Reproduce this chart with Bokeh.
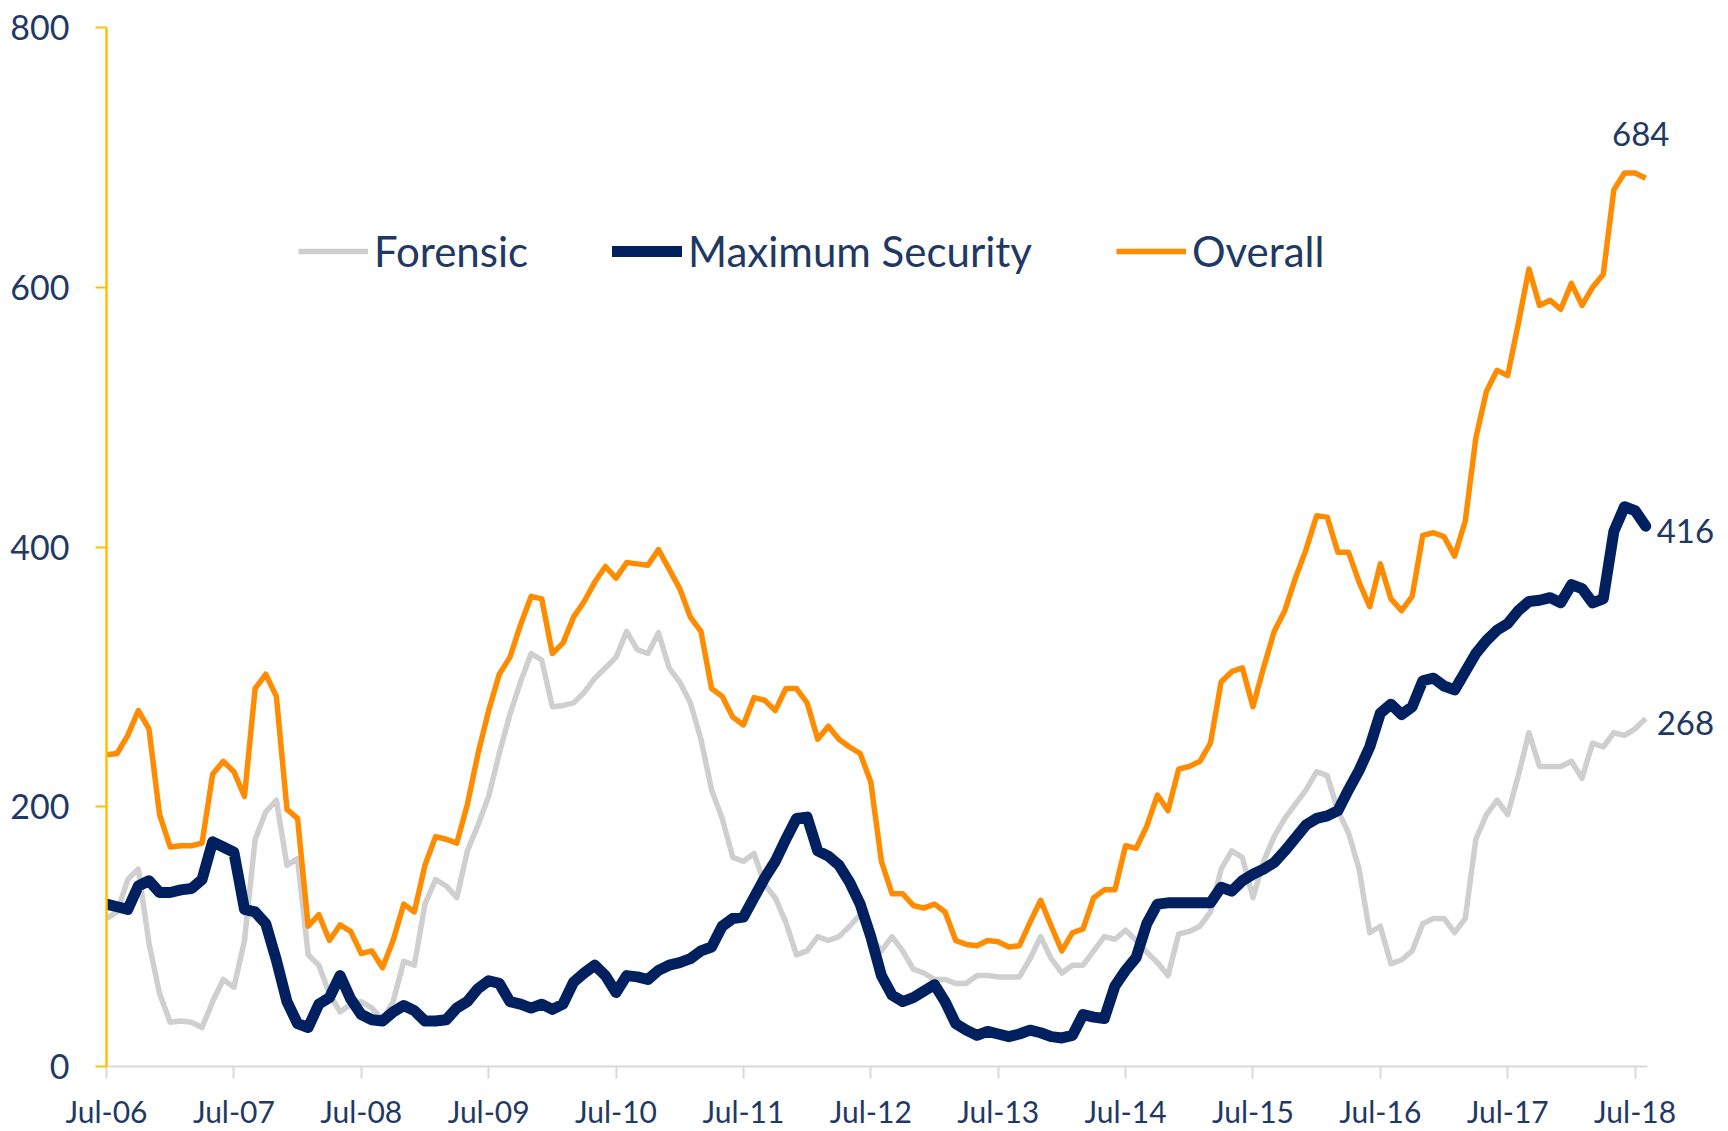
import numpy as np
from bokeh.plotting import figure
from bokeh.models import Range1d, FixedTicker, Legend, LegendItem, Label
from bokeh.embed import file_html
from bokeh.resources import INLINE

# ---------------- data (monthly, Jul-06 .. Aug-18) ----------------
tick_labels = ["Jul-06", "Jul-07", "Jul-08", "Jul-09", "Jul-10", "Jul-11", "Jul-12",
               "Jul-13", "Jul-14", "Jul-15", "Jul-16", "Jul-17", "Jul-18"]

forensic = [114, 119, 144, 152, 95, 56, 34, 35, 34, 30, 50, 67,
            61, 97, 175, 196, 205, 155, 160, 86, 78, 56, 42, 48,
            50, 45, 36, 50, 81, 78, 125, 144, 139, 130, 166, 186,
            208, 241, 271, 296, 318, 313, 277, 278, 280, 288, 299, 307,
            315, 335, 321, 318, 334, 307, 296, 280, 252, 213, 191, 161,
            158, 164, 140, 130, 111, 86, 89, 100, 97, 100, 108, 117,
            100, 89, 100, 89, 75, 72, 67, 67, 64, 64, 70, 70,
            69, 69, 69, 83, 100, 83, 72, 78, 78, 89, 100, 98,
            105, 97, 88, 80, 70, 102, 104, 108, 119, 152, 166, 161,
            130, 158, 177, 191, 202, 213, 227, 224, 197, 180, 152, 103,
            108, 79, 82, 89, 110, 114, 114, 103, 114, 175, 194, 205,
            194, 224, 257, 231, 231, 231, 235, 222, 249, 246, 257, 255,
            260, 268]

max_security = [125, 123, 121, 139, 143, 134, 134, 136, 137, 144, 173, 169,
                165, 121, 119, 110, 82, 50, 33, 30, 48, 53, 70, 52,
                40, 36, 35, 42, 47, 43, 35, 35, 36, 45, 50, 60,
                66, 64, 50, 48, 45, 48, 44, 48, 65, 72, 78, 70,
                57, 70, 69, 67, 74, 78, 80, 83, 89, 92, 108, 114,
                115, 130, 145, 158, 175, 191, 192, 166, 162, 155, 142, 125,
                100, 70, 55, 50, 53, 58, 63, 50, 33, 28, 24, 27,
                25, 23, 25, 28, 26, 23, 22, 24, 40, 38, 37, 62,
                74, 84, 110, 125, 126, 126, 126, 126, 126, 138, 135, 143,
                148, 152, 157, 166, 176, 186, 191, 193, 197, 213, 228, 246,
                272, 279, 271, 277, 297, 299, 293, 290, 304, 318, 328, 336,
                341, 351, 358, 359, 361, 357, 371, 368, 357, 360, 412, 431,
                428, 416]

overall = [240, 241, 255, 274, 260, 194, 169, 170, 170, 172, 225, 235,
           227, 208, 291, 302, 285, 198, 191, 108, 117, 97, 109, 104,
           87, 89, 76, 97, 125, 119, 155, 177, 175, 172, 202, 241,
           274, 302, 315, 340, 362, 360, 318, 326, 346, 358, 373, 385,
           376, 388, 387, 386, 398, 383, 368, 346, 335, 291, 285, 269,
           263, 284, 282, 274, 291, 291, 280, 252, 262, 252, 246, 241,
           219, 158, 133, 133, 124, 122, 125, 119, 97, 94, 93, 97,
           96, 92, 93, 111, 128, 108, 89, 103, 106, 130, 136, 136,
           170, 168, 185, 209, 197, 229, 231, 235, 249, 296, 304, 307,
           277, 307, 335, 351, 376, 398, 424, 423, 396, 396, 373, 354,
           387, 360, 351, 362, 409, 411, 408, 393, 420, 484, 520, 536,
           532, 572, 614, 586, 590, 583, 603, 586, 600, 610, 675, 688,
           688, 684]

y_ticks = [0, 200, 400, 600, 800]

months = list(range(len(overall)))
x_ticks = list(range(0, 12 * len(tick_labels), 12))

# ---------------- styles ----------------
NAVY_TEXT = "#1F3864"
C_FOR = "#CFCFCF"
C_MAX = "#002060"
C_ALL = "#FF8C00"
FONT = "Lato"

AXIS_END = 145.2           # where the drawn x axis stops
VIEW_END = 152.8           # frame reaches the right edge so end labels are not clipped

p = figure(width=1728, height=1131,
           x_range=Range1d(0, VIEW_END), y_range=Range1d(0, 800),
           output_backend="svg", toolbar_location=None,
           min_border_left=106, min_border_right=0,
           min_border_top=27, min_border_bottom=62)
p.outline_line_color = None
p.xgrid.visible = False
p.ygrid.visible = False
p.background_fill_color = "white"
p.border_fill_color = "white"

r_for = p.line(months, forensic, line_color=C_FOR, line_width=5.5, line_join="round")
r_max = p.line(months, max_security, line_color=C_MAX, line_width=11,
               line_join="round", line_cap="round")
r_all = p.line(months, overall, line_color=C_ALL, line_width=5.5, line_join="round")

# x axis
xa = p.xaxis[0]
xa.bounds = (0, AXIS_END)
xa.ticker = FixedTicker(ticks=x_ticks)
xa.major_label_overrides = {t: lab for t, lab in zip(x_ticks, tick_labels)}
xa.axis_line_color = "#D9D9D9"
xa.axis_line_width = 2
xa.major_tick_line_color = "#D9D9D9"
xa.major_tick_line_width = 2
xa.major_tick_out = 12
xa.major_tick_in = 0
xa.minor_tick_line_color = None
xa.major_label_standoff = 14
xa.major_label_text_font = FONT
xa.major_label_text_font_size = "30px"
xa.major_label_text_color = NAVY_TEXT

# y axis
ya = p.yaxis[0]
ya.ticker = FixedTicker(ticks=y_ticks)
ya.axis_line_color = "#FFC000"
ya.axis_line_width = 2.5
ya.major_tick_line_color = "#FFC000"
ya.major_tick_line_width = 2
ya.major_tick_out = 11
ya.major_tick_in = 0
ya.minor_tick_line_color = None
ya.major_label_standoff = 26
ya.major_label_text_font = FONT
ya.major_label_text_font_size = "34px"
ya.major_label_text_color = NAVY_TEXT

# legend
legend = Legend(items=[LegendItem(label="Forensic", renderers=[r_for]),
                       LegendItem(label="Maximum Security", renderers=[r_max]),
                       LegendItem(label="Overall", renderers=[r_all])],
                location=(192, 790), orientation="horizontal",
                glyph_width=70, glyph_height=20, label_standoff=6, spacing=84,
                padding=0, margin=0, border_line_alpha=0, background_fill_alpha=0,
                label_text_font=FONT, label_text_font_size="42px",
                label_text_color=NAVY_TEXT)
p.add_layout(legend)

# end-value labels
last = months[-1]
p.add_layout(Label(x=last, y=overall[-1], text=str(overall[-1]),
                   x_offset=-5, y_offset=44, text_align="center", text_baseline="alphabetic",
                   text_font=FONT, text_font_size="33px", text_color=NAVY_TEXT))
p.add_layout(Label(x=last, y=max_security[-1], text=str(max_security[-1]),
                   x_offset=11, y_offset=-5, text_align="left", text_baseline="alphabetic",
                   text_font=FONT, text_font_size="33px", text_color=NAVY_TEXT))
p.add_layout(Label(x=last, y=forensic[-1], text=str(forensic[-1]),
                   x_offset=11, y_offset=-5, text_align="left", text_baseline="alphabetic",
                   text_font=FONT, text_font_size="33px", text_color=NAVY_TEXT))

open("out.html", "w").write(file_html(p, INLINE))
